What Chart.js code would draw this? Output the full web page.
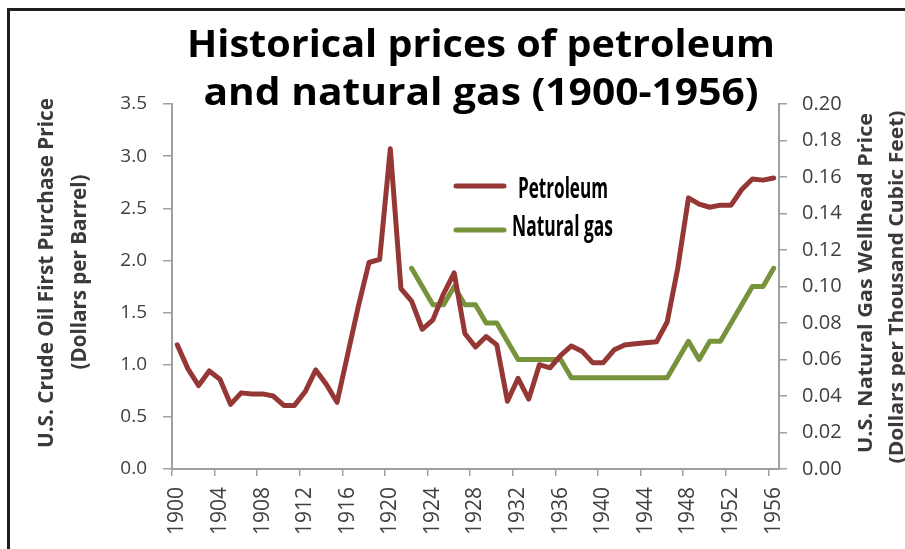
<!DOCTYPE html>
<html><head><meta charset="utf-8">
<style>html,body{margin:0;padding:0;background:#fff;}canvas{display:block;}</style>
<script src="https://cdn.jsdelivr.net/npm/chart.js@4.4.1/dist/chart.umd.min.js"></script>
</head><body>
<canvas id="c" width="905" height="549"></canvas>
<script>
const years = ['1900','1901','1902','1903','1904','1905','1906','1907','1908','1909',
  '1910','1911','1912','1913','1914','1915','1916','1917','1918','1919',
  '1920','1921','1922','1923','1924','1925','1926','1927','1928','1929',
  '1930','1931','1932','1933','1934','1935','1936','1937','1938','1939',
  '1940','1941','1942','1943','1944','1945','1946','1947','1948','1949',
  '1950','1951','1952','1953','1954','1955','1956'];
const petroleum = [1.19,0.96,0.80,0.94,0.86,0.62,0.73,0.72,0.72,0.70,
  0.61,0.61,0.74,0.95,0.81,0.64,1.10,1.56,1.98,2.01,
  3.07,1.73,1.61,1.34,1.43,1.68,1.88,1.30,1.17,1.27,
  1.19,0.65,0.87,0.67,1.00,0.97,1.09,1.18,1.13,1.02,
  1.02,1.14,1.19,1.20,1.21,1.22,1.41,1.93,2.60,2.54,
  2.51,2.53,2.53,2.68,2.78,2.77,2.79];
const naturalGas = [null,null,null,null,null,null,null,null,null,null,
  null,null,null,null,null,null,null,null,null,null,
  null,null,0.11,0.10,0.09,0.09,0.10,0.09,0.09,0.08,
  0.08,0.07,0.06,0.06,0.06,0.06,0.06,0.05,0.05,0.05,
  0.05,0.05,0.05,0.05,0.05,0.05,0.05,0.06,0.07,0.06,
  0.07,0.07,0.08,0.09,0.10,0.10,0.11];
const titleLines = ['Historical prices of petroleum', 'and natural gas (1900-1956)'];
const leftTitle = ['U.S. Crude Oil First Purchase Price', '(Dollars per Barrel)'];
const rightTitle = ['U.S. Natural Gas Wellhead Price', '(Dollars per Thousand Cubic Feet)'];
const seriesNames = ['Petroleum', 'Natural gas'];
const colors = ['#953735', '#77933C'];

function fitText(ctx, text, x, y, width, font, color, angle, align) {
  ctx.save();
  ctx.font = font;
  ctx.fillStyle = color;
  ctx.textBaseline = 'alphabetic';
  ctx.textAlign = align || 'center';
  ctx.translate(x, y);
  ctx.rotate(angle || 0);
  const w = ctx.measureText(text).width;
  ctx.scale(width / w, 1);
  ctx.fillText(text, 0, 0);
  ctx.restore();
}

const decor = {
  id: 'decor',
  afterDraw(chart) {
    const ctx = chart.ctx;
    const F = "'Open Sans', 'DejaVu Sans', sans-serif";
    // frame
    ctx.save();
    ctx.fillStyle = '#1e1e1e';
    ctx.fillRect(7, 8, 898, 3);
    ctx.fillRect(7, 8, 3, 541);
    ctx.restore();
    // title
    fitText(ctx, titleLines[0], 481, 57, 588, 'bold 37px ' + F, '#000');
    fitText(ctx, titleLines[1], 481, 105, 555, 'bold 37px ' + F, '#000');
    // axis titles
    fitText(ctx, leftTitle[0], 53, 273, 350, 'bold 21px ' + F, '#3a3a3a', -Math.PI / 2);
    fitText(ctx, leftTitle[1], 86, 272, 195, 'bold 21px ' + F, '#3a3a3a', -Math.PI / 2);
    fitText(ctx, rightTitle[0], 872, 283, 340, 'bold 20px ' + F, '#3a3a3a', -Math.PI / 2);
    fitText(ctx, rightTitle[1], 903, 287, 353, 'bold 20px ' + F, '#3a3a3a', -Math.PI / 2);
    // legend
    const items = [{y: 186, ty: 198, tx: 518, w: 90}, {y: 230, ty: 236, tx: 512, w: 101}];
    items.forEach((it, i) => {
      const ds = chart.data.datasets[i];
      ctx.save();
      ctx.strokeStyle = ds.borderColor;
      ctx.lineWidth = 5;
      ctx.lineCap = 'round';
      ctx.beginPath();
      ctx.moveTo(456, it.y);
      ctx.lineTo(504, it.y);
      ctx.stroke();
      ctx.restore();
      fitText(ctx, ds.label, it.tx, it.ty, it.w, 'bold 29px ' + F, '#000', 0, 'left');
    });
  }
};

const axisGrey = '#a0a0a0';
new Chart(document.getElementById('c'), {
  type: 'line',
  data: {
    labels: years,
    datasets: [
      {label: seriesNames[0], data: petroleum, yAxisID: 'y', borderColor: colors[0], backgroundColor: colors[0],
       borderWidth: 5, pointRadius: 0, tension: 0, borderJoinStyle: 'round', borderCapStyle: 'round'},
      {label: seriesNames[1], data: naturalGas, yAxisID: 'y2', borderColor: colors[1], backgroundColor: colors[1],
       borderWidth: 5, pointRadius: 0, tension: 0, borderJoinStyle: 'round', borderCapStyle: 'round'}
    ]
  },
  options: {
    responsive: false,
    animation: false,
    layout: {padding: {top: 104, left: 0, right: 0, bottom: 0}},
    plugins: {legend: {display: false}, title: {display: false}, tooltip: {enabled: false}},
    scales: {
      x: {
        type: 'category', offset: true,
        grid: {offset: true, drawOnChartArea: false, tickLength: 7, lineWidth: 1.5,
               color: c => (c.index % 4 === 0 ? axisGrey : 'rgba(0,0,0,0)')},
        border: {color: axisGrey, width: 2},
        ticks: {autoSkip: false, minRotation: 90, maxRotation: 90, padding: 11,
                font: {family: "'Open Sans'", size: 21}, color: '#404040',
                callback: function (v, i) { return i % 4 === 0 ? this.getLabelForValue(v) : ''; }},
        afterFit: s => { s.height = 80; }
      },
      y: {
        position: 'left', min: 0, max: 3.5,
        grid: {drawOnChartArea: false, tickLength: 9, lineWidth: 1.5, color: axisGrey},
        border: {color: axisGrey, width: 2},
        ticks: {stepSize: 0.5, padding: 16, font: {family: "'Open Sans'", size: 19}, color: '#404040',
                callback: v => v.toFixed(1)},
        afterFit: s => { s.width = 172; }
      },
      y2: {
        position: 'right', min: 0, max: 0.2,
        grid: {drawOnChartArea: false, tickLength: 8, lineWidth: 1.5, color: axisGrey},
        border: {color: axisGrey, width: 2},
        ticks: {stepSize: 0.02, padding: 15, font: {family: "'Open Sans'", size: 20}, color: '#404040',
                callback: v => v.toFixed(2)},
        afterFit: s => { s.width = 126; }
      }
    }
  },
  plugins: [decor]
});
</script>
</body></html>
